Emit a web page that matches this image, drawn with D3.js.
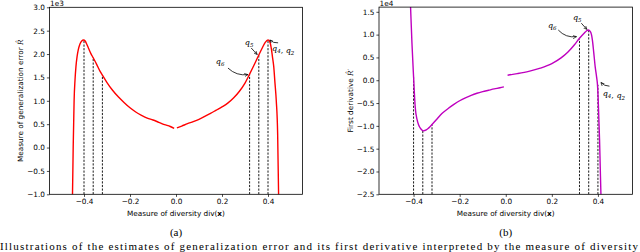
<!DOCTYPE html>
<html>
<head>
<meta charset="utf-8">
<script src="https://cdn.jsdelivr.net/npm/d3@7"></script>
<style>
  body { margin: 0; background: #fff; }
  svg { display: block; }
  .tick text { font-family: "DejaVu Sans", sans-serif; font-size: 7.3px; fill: #000; }
  .lbl { font-family: "DejaVu Sans", sans-serif; font-size: 7.3px; fill: #000; }
  .q { font-family: "DejaVu Serif", serif; font-style: italic; font-size: 8px; fill: #000; }
  .cap { font-family: "Liberation Serif", "Times New Roman", serif; font-size: 11px; fill: #000; }
</style>
</head>
<body>
<div id="chart"></div>
<script>
// panel (a): estimate of generalization error, two branches (gap at 0)
const aLeftX = [-0.456, -0.450, -0.447, -0.445, -0.443, -0.439, -0.435, -0.430, -0.425, -0.418, -0.410, -0.402,
  -0.395, -0.388, -0.380, -0.370, -0.360, -0.345, -0.330, -0.320, -0.300, -0.275, -0.250, -0.225, -0.200,
  -0.175, -0.150, -0.125, -0.100, -0.075, -0.050, -0.025, -0.008];
const aLeftR = [-1800, -1000, 0, 500, 1000, 1450, 1730, 1950, 2090, 2210, 2280, 2300,
  2280, 2210, 2120, 2010, 1920, 1780, 1630, 1550, 1390, 1220, 1080, 960, 850,
  760, 690, 630, 590, 540, 490, 450, 410];
const aRightX = [0.004, 0.025, 0.050, 0.075, 0.100, 0.125, 0.150, 0.175, 0.200, 0.225, 0.250, 0.275, 0.300,
  0.320, 0.340, 0.360, 0.375, 0.388, 0.400, 0.408, 0.415, 0.420, 0.425, 0.430, 0.436, 0.442, 0.446, 0.450];
const aRightR = [420, 460, 510, 555, 605, 665, 730, 800, 870, 950, 1060, 1200, 1380,
  1570, 1770, 1980, 2130, 2250, 2300, 2260, 2100, 1920, 1730, 1400, 1000, 280, -1000, -1800];

// panel (b): first derivative
const bLeftX = [-0.418, -0.413, -0.407, -0.400, -0.393, -0.385, -0.378, -0.368, -0.357, -0.345, -0.335, -0.318,
  -0.300, -0.277, -0.250, -0.225, -0.200, -0.175, -0.150, -0.125, -0.100, -0.075, -0.050, -0.025, -0.008];
const bLeftD = [22000, 16000, 8100, 800, -5800, -8600, -9800, -10700, -11100, -10900, -10500, -9600,
  -8600, -7300, -6200, -5300, -4500, -3850, -3300, -2850, -2500, -2200, -1900, -1650, -1450];
const bRightX = [0.008, 0.050, 0.100, 0.150, 0.200, 0.240, 0.270, 0.300, 0.320, 0.340, 0.350, 0.357, 0.365, 0.372,
  0.376, 0.382, 0.388, 0.394, 0.398, 0.401, 0.404, 0.407, 0.410, 0.413, 0.416];
const bRightD = [1100, 1450, 1950, 2650, 3650, 4900, 6200, 7900, 9200, 10300, 10800, 11000, 10800, 10000,
  8800, 6000, 3000, 800, -1000, -4000, -8500, -13000, -19000, -25000, -30000];

// dashed markers q
const qX = [-0.40, -0.36, -0.32, 0.32, 0.36, 0.40];
const qA = [2300, 1930, 1550, 1570, 1980, 2300];
const qB = [800, -11100, -9650, 9300, 11000, -1000];

const xTicks = [-0.4, -0.2, 0.0, 0.2, 0.4];
const aTicks = [-1000, -500, 0, 500, 1000, 1500, 2000, 2500, 3000];
const bTicks = [-25000, -20000, -15000, -10000, -5000, 0, 5000, 10000, 15000];

// annotations: label, text pos, arrow start, arrow target (data coords)
const annA = [
  {sub: ["6"], tx: 0.192, ty: 1850, sx: 0.226, sy: 1700, ex: 0.313, ey: 1560, bend: 5},
  {sub: ["5"], tx: 0.318, ty: 2250, sx: 0.327, sy: 2130, ex: 0.353, ey: 1990, bend: 0},
  {sub: ["4", "2"], tx: 0.466, ty: 2110, sx: 0.444, sy: 2240, ex: 0.408, ey: 2300, bend: -2}
];
const annB = [
  {sub: ["6"], tx: 0.202, ty: 12000, sx: 0.228, sy: 11000, ex: 0.307, ey: 9550, bend: 5},
  {sub: ["5"], tx: 0.310, ty: 13750, sx: 0.328, sy: 12500, ex: 0.352, ey: 11150, bend: 0},
  {sub: ["4", "2"], tx: 0.469, ty: -3000, sx: 0.450, sy: -1300, ex: 0.413, ey: -500, bend: -2}
];

const W = 640, H = 252;
const svg = d3.select("#chart").append("svg").attr("width", W).attr("height", H);

const defs = svg.append("defs");
defs.append("marker").attr("id", "ah")
  .attr("viewBox", "0 0 10 10").attr("refX", 9).attr("refY", 5)
  .attr("markerWidth", 5).attr("markerHeight", 5).attr("orient", "auto")
  .append("path").attr("d", "M0,1 L9,5 L0,9").attr("fill", "none").attr("stroke", "#000").attr("stroke-width", 1.6);

function panel(opts) {
  const x = d3.scaleLinear().domain([-0.55, 0.55]).range([opts.left, opts.right]);
  const y = d3.scaleLinear().domain(opts.ydom).range([opts.bottom, opts.top]);
  const g = svg.append("g");

  defs.append("clipPath").attr("id", opts.id + "clip")
    .append("rect").attr("x", opts.left).attr("y", opts.top)
    .attr("width", opts.right - opts.left).attr("height", opts.bottom - opts.top);

  const plot = g.append("g").attr("clip-path", "url(#" + opts.id + "clip)");

  // dashed lines from the bottom up to the curve
  plot.selectAll(".qline").data(qX).enter().append("line")
    .attr("x1", d => x(d)).attr("x2", d => x(d))
    .attr("y1", opts.bottom).attr("y2", (d, i) => y(opts.qv[i]))
    .attr("stroke", "#000").attr("stroke-width", 0.9)
    .attr("stroke-dasharray", "2.2,1.4");

  const line = d3.line().x(d => x(d[0])).y(d => y(d[1])).curve(d3.curveMonotoneX);
  opts.branches.forEach(b => {
    plot.append("path").datum(d3.zip(b[0], b[1]))
      .attr("d", line).attr("fill", "none")
      .attr("stroke", opts.color).attr("stroke-width", 1.4);
  });

  // axes
  const xAxis = d3.axisBottom(x).tickValues(xTicks).tickSize(2.6).tickPadding(2)
    .tickFormat(d => d3.format(".1f")(d).replace("-", "\u2212"));
  g.append("g").attr("transform", "translate(0," + opts.bottom + ")").call(xAxis)
    .call(s => s.select(".domain").remove());
  const yAxis = d3.axisLeft(y).tickValues(opts.yticks).tickSize(2.6).tickPadding(2)
    .tickFormat(d => d3.format(".1f")(d / opts.unit).replace("-", "\u2212"));
  g.append("g").attr("transform", "translate(" + opts.left + ",0)").call(yAxis)
    .call(s => s.select(".domain").remove());
  g.selectAll(".tick line").attr("stroke", "#000").attr("stroke-width", 0.7);

  g.append("rect").attr("x", opts.left).attr("y", opts.top)
    .attr("width", opts.right - opts.left).attr("height", opts.bottom - opts.top)
    .attr("fill", "none").attr("stroke", "#000").attr("stroke-width", 0.8);

  // offset text
  g.append("text").attr("class", "lbl").attr("x", opts.left + 0.5).attr("y", 5.5).text(opts.offset);

  // x label
  const xl = g.append("text").attr("class", "lbl").attr("text-anchor", "middle")
    .attr("x", x(0)).attr("y", 215.5);
  xl.append("tspan").text("Measure of diversity div(");
  xl.append("tspan").attr("font-weight", "bold").text("x");
  xl.append("tspan").text(")");

  // y label
  const cy = (opts.top + opts.bottom) / 2;
  const yl = g.append("text").attr("class", "lbl").attr("text-anchor", "middle")
    .attr("transform", "translate(" + opts.ylx + "," + cy + ") rotate(-90)");
  yl.append("tspan").text(opts.ylabel + " ");
  yl.append("tspan").attr("font-family", "DejaVu Serif, serif").attr("font-style", "italic").text("R\u0302" + opts.prime);

  // annotations
  opts.ann.forEach(a => {
    const t = g.append("text").attr("class", "q").attr("text-anchor", "middle")
      .attr("x", x(a.tx)).attr("y", y(a.ty) + 2.5);
    a.sub.forEach((s, i) => {
      if (i > 0) t.append("tspan").attr("font-style", "normal").text(", ");
      t.append("tspan").text("q");
      t.append("tspan").attr("font-size", "5.5px").attr("dy", 2).text(s);
      t.append("tspan").attr("dy", -2).text("");
    });
    const x0 = x(a.sx), y0 = y(a.sy), x1 = x(a.ex), y1 = y(a.ey);
    const mx = (x0 + x1) / 2, my = (y0 + y1) / 2;
    const dx = x1 - x0, dy = y1 - y0, len = Math.hypot(dx, dy);
    const cx = mx - dy / len * a.bend, cyy = my + dx / len * a.bend;
    g.append("path").attr("d", "M" + x0 + "," + y0 + " Q" + cx + "," + cyy + " " + x1 + "," + y1)
      .attr("fill", "none").attr("stroke", "#000").attr("stroke-width", 0.8)
      .attr("marker-end", "url(#ah)");
  });

  // caption
  g.append("text").attr("class", "cap").attr("text-anchor", "middle")
    .attr("x", x(0)).attr("y", 235.5).text(opts.cap);
}

panel({
  id: "a", left: 49.5, right: 302.5, top: 7.3, bottom: 194.3,
  ydom: [-1000, 3000], yticks: aTicks, unit: 1000, offset: "1e3",
  color: "#ff0000", branches: [[aLeftX, aLeftR], [aRightX, aRightR]],
  qv: qA, ylabel: "Measure of generalization error", prime: "", ylx: 22.5,
  ann: annA, cap: "(a)"
});
panel({
  id: "b", left: 379, right: 632.5, top: 7.1, bottom: 194.3,
  ydom: [-25000, 16030], yticks: bTicks, unit: 10000, offset: "1e4",
  color: "#bf00bf", branches: [[bLeftX, bLeftD], [bRightX, bRightD]],
  qv: qB, ylabel: "First derivative", prime: "\u2032", ylx: 352.5,
  ann: annB, cap: "(b)"
});

svg.append("text").attr("class", "cap").attr("x", 0).attr("y", 249.5)
  .attr("font-size", "10px").attr("textLength", 638).attr("lengthAdjust", "spacing")
  .text("Illustrations of the estimates of generalization error and its first derivative interpreted by the measure of diversity");
</script>
</body>
</html>
